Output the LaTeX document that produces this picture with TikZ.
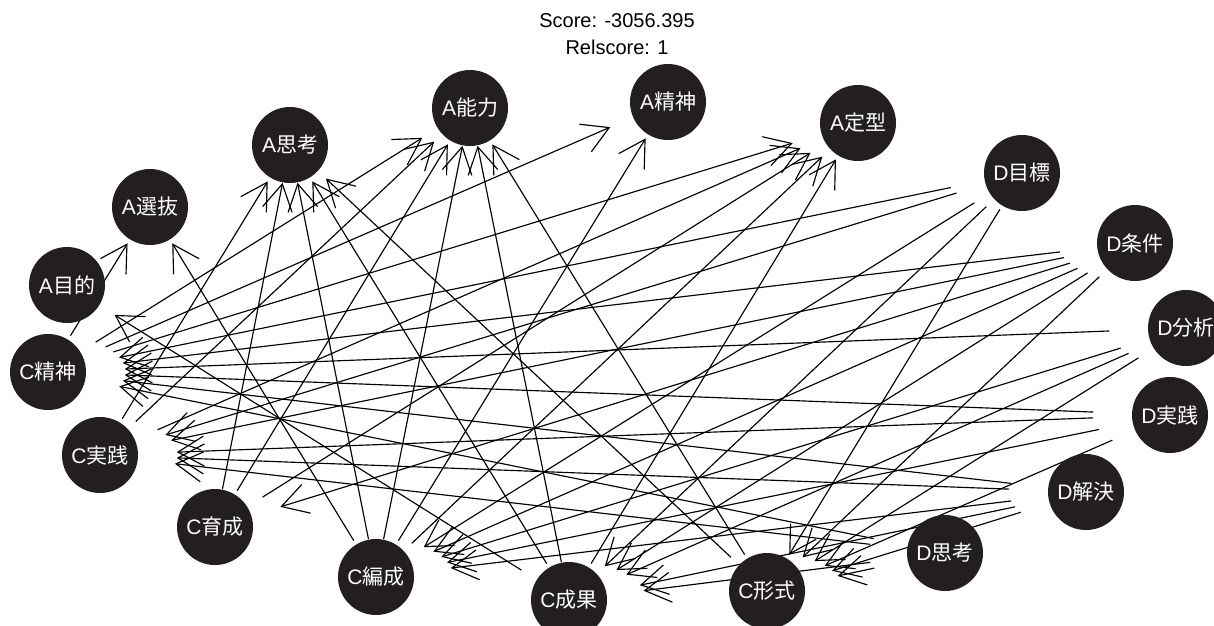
\documentclass[tikz,border=0pt]{standalone}
\usepackage{fontspec}
\setmainfont{Liberation Sans}
\newfontfamily\jpfont{Noto Sans CJK JP}
\usetikzlibrary{arrows.meta,shapes.geometric}
\definecolor{nodefill}{HTML}{231F20}
\begin{document}
\begin{tikzpicture}[x=1pt,y=-1pt,
  clipnode/.style={ellipse,minimum width=154pt,minimum height=76pt,inner sep=0pt,outer sep=0pt,draw=none},
  vnode/.style={circle,fill=nodefill,minimum size=76pt,inner sep=0pt,text=white,font=\fontsize{21}{21}\selectfont},
  edge/.style={line width=1.15pt,black,-{Straight Barb[length=26pt,width=30pt]}},
  titletext/.style={font=\fontsize{20}{22}\selectfont,inner sep=0pt}]
\useasboundingbox (0,0) rectangle (1214,625);
\fill[white] (0,0) rectangle (1214,625);
% title
\node[titletext] (t1) at (617,21) {Score: -3056.395};
\node[titletext] (t2) at (617,47) {Relscore: 1};
% invisible clipping shapes
\node[clipnode] (am) at (67,285) {};
\node[clipnode] (as) at (150,207) {};
\node[clipnode] (at) at (290,145) {};
\node[clipnode] (an) at (470,108) {};
\node[clipnode] (aj) at (668,102) {};
\node[clipnode] (ad) at (858,123) {};
\node[clipnode] (dm) at (1022,173) {};
\node[clipnode] (dj) at (1135,243) {};
\node[clipnode] (db) at (1186,328) {};
\node[clipnode] (dz) at (1170,415) {};
\node[clipnode] (dk) at (1086,492) {};
\node[clipnode] (dt) at (945,553) {};
\node[clipnode] (cf) at (767,591) {};
\node[clipnode] (cs) at (569,600) {};
\node[clipnode] (ch) at (376,577) {};
\node[clipnode] (ci) at (215,527) {};
\node[clipnode] (cz) at (100,455) {};
\node[clipnode] (cj) at (48,372) {};
% edges
\foreach \s/\t in {dm/cj,dm/cz,dm/ch,dm/cs,dm/cf,
                   dj/cj,dj/cz,dj/ci,dj/ch,dj/cs,dj/cf,
                   db/cj,db/ch,db/cs,db/cf,
                   dz/cj,dz/cz,dz/ch,dz/cf,
                   dk/cj,dk/cz,dk/ch,dk/cs,dk/cf,
                   dt/cj,dt/cz,dt/cs,dt/cf,
                   cj/as,cj/an,cj/aj,cj/ad,
                   cz/at,cz/an,cz/ad,
                   ci/at,ci/an,ci/ad,
                   ch/as,ch/at,ch/an,ch/aj,ch/ad,
                   cs/am,cs/at,cs/an,cs/ad,
                   cf/at,cf/an}
  \draw[edge] (\s) -- (\t);
% visible nodes
\node[vnode] (am-v) at (am.center) {A{\jpfont 目的}};
\node[vnode] (as-v) at (as.center) {A{\jpfont 選抜}};
\node[vnode] (at-v) at (at.center) {A{\jpfont 思考}};
\node[vnode] (an-v) at (an.center) {A{\jpfont 能力}};
\node[vnode] (aj-v) at (aj.center) {A{\jpfont 精神}};
\node[vnode] (ad-v) at (ad.center) {A{\jpfont 定型}};
\node[vnode] (dm-v) at (dm.center) {D{\jpfont 目標}};
\node[vnode] (dj-v) at (dj.center) {D{\jpfont 条件}};
\node[vnode] (db-v) at (db.center) {D{\jpfont 分析}};
\node[vnode] (dz-v) at (dz.center) {D{\jpfont 実践}};
\node[vnode] (dk-v) at (dk.center) {D{\jpfont 解決}};
\node[vnode] (dt-v) at (dt.center) {D{\jpfont 思考}};
\node[vnode] (cf-v) at (cf.center) {C{\jpfont 形式}};
\node[vnode] (cs-v) at (cs.center) {C{\jpfont 成果}};
\node[vnode] (ch-v) at (ch.center) {C{\jpfont 編成}};
\node[vnode] (ci-v) at (ci.center) {C{\jpfont 育成}};
\node[vnode] (cz-v) at (cz.center) {C{\jpfont 実践}};
\node[vnode] (cj-v) at (cj.center) {C{\jpfont 精神}};
\end{tikzpicture}
\end{document}
